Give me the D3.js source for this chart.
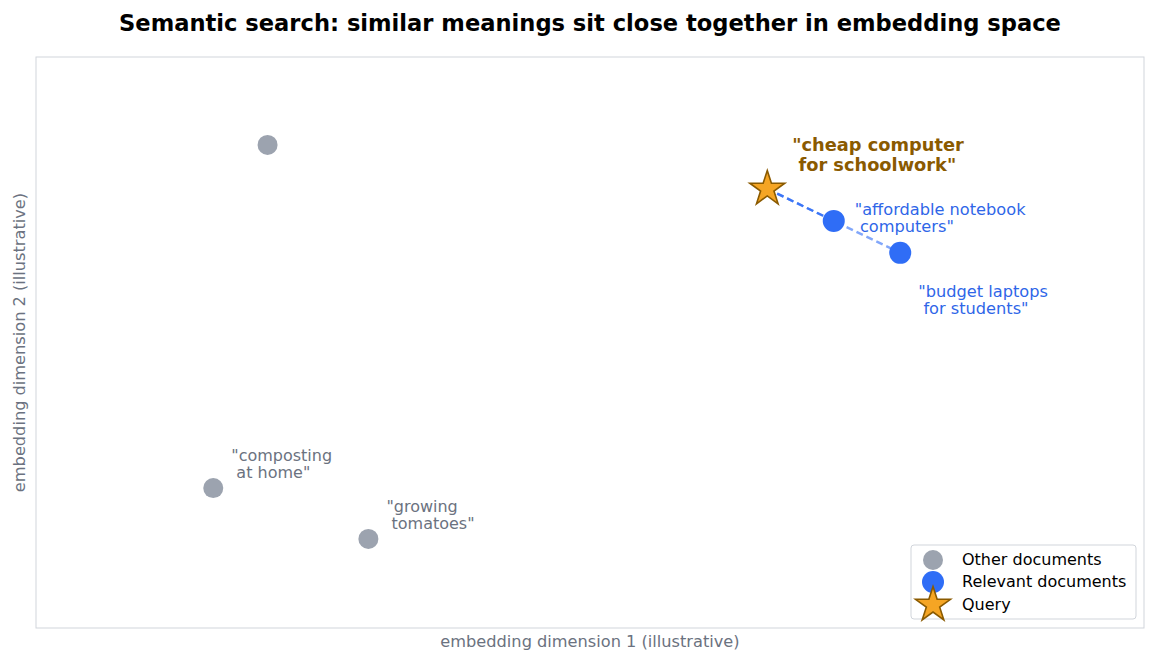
<!DOCTYPE html>
<html>
<head>
<meta charset="utf-8">
<script src="https://cdn.jsdelivr.net/npm/d3@7"></script>
<style>
  body { margin: 0; background: #fff; }
  text { font-family: "DejaVu Sans", sans-serif; white-space: pre; }
</style>
</head>
<body>
<div id="chart"></div>
<script>
// illustrative 2-d embedding coordinates
var otherX = [2.09, 1.6, 3.0];
var otherY = [8.46, 2.45, 1.56];
var otherLabels = [null, ["\"composting", " at home\""], ["\"growing", " tomatoes\""]];

var relevantX = [7.2, 7.8];
var relevantY = [7.13, 6.57];
var relevantLabels = [["\"affordable notebook", " computers\""], ["\"budget laptops", " for students\""]];

var queryX = 6.6;
var queryY = 7.69;
var queryLabel = ["\"cheap computer", " for schoolwork\""];

var legendLabels = ["Other documents", "Relevant documents", "Query"];

var W = 1156, H = 663;
var m = { left: 36, right: 12, top: 57, bottom: 35 };
var GRAY = "#9ca3af", GRAY_TXT = "#6b7280", BLUE = "#2f6df6", BLUE_TXT = "#2f66e8",
    STAR = "#f5a524", STAR_EDGE = "#8a5a00";

var svg = d3.select("#chart").append("svg").attr("width", W).attr("height", H);

var x = d3.scaleLinear().domain([0, 10]).range([m.left, W - m.right]);
var y = d3.scaleLinear().domain([0, 10]).range([H - m.bottom, m.top]);

svg.append("text").attr("x", (m.left + W - m.right) / 2).attr("y", 31)
    .attr("text-anchor", "middle").style("font-size", "22.6px").style("font-weight", "bold")
    .text("Semantic search: similar meanings sit close together in embedding space");

svg.append("rect").attr("x", x(0)).attr("y", y(10))
    .attr("width", x(10) - x(0)).attr("height", y(0) - y(10))
    .attr("fill", "none").attr("stroke", "#d1d5db").attr("stroke-width", 1);

svg.append("text").attr("x", (x(0) + x(10)) / 2).attr("y", 647)
    .attr("text-anchor", "middle").style("font-size", "16.2px").attr("fill", GRAY_TXT)
    .text("embedding dimension 1 (illustrative)");
svg.append("text").attr("transform", "translate(25," + (y(0) + y(10)) / 2 + ") rotate(-90)")
    .attr("text-anchor", "middle").style("font-size", "16.2px").attr("fill", GRAY_TXT)
    .text("embedding dimension 2 (illustrative)");

var star = d3.symbol().type(d3.symbolStar);

// dashed links query -> relevant docs (far one drawn first, lighter)
[1, 0].forEach(function (i) {
    svg.append("line")
        .attr("x1", x(queryX)).attr("y1", y(queryY))
        .attr("x2", x(relevantX[i])).attr("y2", y(relevantY[i]))
        .attr("stroke", BLUE).attr("stroke-width", 2.4)
        .attr("stroke-dasharray", "7,4")
        .attr("stroke-opacity", i === 0 ? 0.85 : 0.6);
});

function multiline(sel, lines, lh) {
    lines.forEach(function (l, k) {
        sel.append("tspan").attr("x", sel.attr("x")).attr("dy", k === 0 ? 0 : lh).text(l);
    });
}

otherX.forEach(function (d, i) {
    svg.append("circle").attr("cx", x(d)).attr("cy", y(otherY[i])).attr("r", 10).attr("fill", GRAY);
    if (otherLabels[i]) {
        var t = svg.append("text").attr("x", x(d) + 18).attr("y", y(otherY[i]) - 27)
            .style("font-size", "16px").attr("fill", GRAY_TXT);
        multiline(t, otherLabels[i], 17);
    }
});

relevantX.forEach(function (d, i) {
    svg.append("circle").attr("cx", x(d)).attr("cy", y(relevantY[i])).attr("r", 11).attr("fill", BLUE);
    var t = svg.append("text").attr("x", x(d) + (i === 0 ? 21 : 18))
        .attr("y", y(relevantY[i]) + (i === 0 ? -6 : 44))
        .style("font-size", "16.2px").attr("fill", BLUE_TXT);
    multiline(t, relevantLabels[i], 17);
});

svg.append("path").attr("d", star.size(380)())
    .attr("transform", "translate(" + x(queryX) + "," + y(queryY) + ")")
    .attr("fill", STAR).attr("stroke", STAR_EDGE).attr("stroke-width", 1.6);
var qt = svg.append("text").attr("x", x(queryX) + 25).attr("y", y(queryY) - 38)
    .style("font-size", "17.8px").style("font-weight", "bold").attr("fill", STAR_EDGE);
multiline(qt, queryLabel, 20);

// legend
var lg = svg.append("g").attr("transform", "translate(911,545)");
lg.append("rect").attr("width", 225).attr("height", 74).attr("rx", 3)
    .attr("fill", "#fff").attr("fill-opacity", 0.8).attr("stroke", "#d1d5db");
var ly = [15, 37, 60];
lg.append("circle").attr("cx", 22).attr("cy", ly[0]).attr("r", 10).attr("fill", GRAY);
lg.append("circle").attr("cx", 22).attr("cy", ly[1]).attr("r", 11).attr("fill", BLUE);
lg.append("path").attr("d", star.size(380)()).attr("transform", "translate(22," + ly[2] + ")")
    .attr("fill", STAR).attr("stroke", STAR_EDGE).attr("stroke-width", 1.6);
legendLabels.forEach(function (l, i) {
    lg.append("text").attr("x", 51).attr("y", ly[i] + 5)
        .style("font-size", "16px").attr("fill", "#000").text(l);
});
</script>
</body>
</html>
